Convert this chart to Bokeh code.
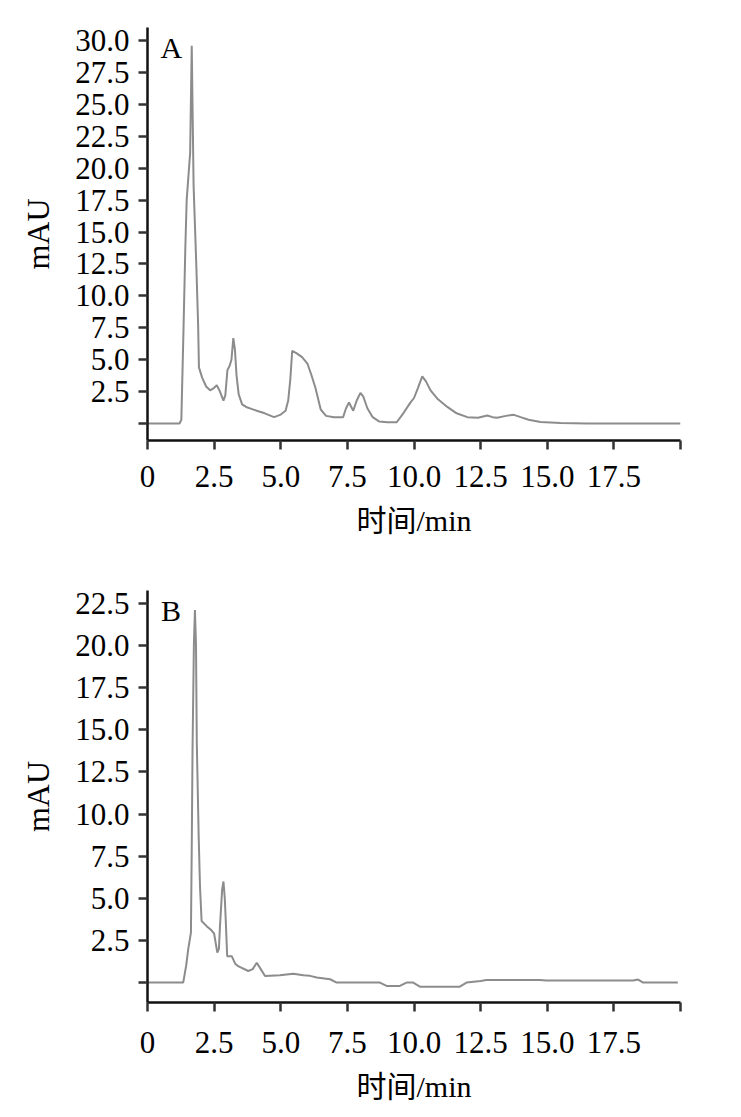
from bokeh.plotting import figure
from bokeh.models import Range1d, FixedTicker, Label, NumeralTickFormatter
from bokeh.layouts import column
from bokeh.embed import file_html
from bokeh.resources import INLINE

# Chromatogram A
time_a = [0, 1.2, 1.27, 1.35, 1.42, 1.47, 1.55, 1.6, 1.66, 1.73, 1.83, 1.9, 1.93,
          2.05, 2.2, 2.35, 2.5, 2.6, 2.7, 2.85, 2.92, 3.0, 3.08, 3.15, 3.22, 3.28,
          3.34, 3.42, 3.55, 3.7, 3.9, 4.1, 4.4, 4.75, 5.0, 5.18, 5.28, 5.36, 5.43,
          5.6, 5.8, 6.0, 6.15, 6.3, 6.5, 6.7, 7.0, 7.34, 7.45, 7.56, 7.72, 7.85,
          7.99, 8.1, 8.25, 8.45, 8.7, 9.0, 9.35, 9.6, 9.85, 10.0, 10.15, 10.31,
          10.45, 10.62, 10.9, 11.25, 11.6, 12.0, 12.4, 12.75, 12.95, 13.12, 13.45,
          13.75, 14.0, 14.3, 14.75, 15.5, 16.5, 20.0]
mau_a = [0, 0, 0.3, 7.3, 13.8, 17.5, 19.8, 21.2, 29.6, 18.6, 12.5, 7.7, 4.4,
         3.6, 2.9, 2.6, 2.8, 3.0, 2.6, 1.8, 2.2, 4.2, 4.5, 5.0, 6.7, 5.8,
         3.8, 2.3, 1.5, 1.3, 1.15, 1.0, 0.8, 0.5, 0.7, 1.0, 1.8, 3.5, 5.7,
         5.5, 5.2, 4.7, 3.8, 2.8, 1.1, 0.6, 0.5, 0.5, 1.2, 1.65, 1.0, 1.8,
         2.4, 2.1, 1.2, 0.5, 0.15, 0.1, 0.1, 0.8, 1.6, 2.0, 2.8, 3.7,
         3.3, 2.6, 1.9, 1.3, 0.8, 0.5, 0.45, 0.63, 0.5, 0.45, 0.6,
         0.68, 0.5, 0.3, 0.12, 0.05, 0.0, 0.0]

# Chromatogram B
time_b = [0, 1.34, 1.45, 1.53, 1.63, 1.66, 1.69, 1.74, 1.78, 1.82, 1.85, 1.92,
          1.97, 2.03, 2.22, 2.4, 2.5, 2.62, 2.68, 2.72, 2.8, 2.85, 2.9, 2.93,
          2.99, 3.16, 3.3, 3.4, 3.78, 3.95, 4.1, 4.25, 4.41, 4.97, 5.47, 5.85,
          6.1, 6.35, 6.85, 7.1, 8.72, 8.97, 9.47, 9.72, 9.97, 10.22, 11.72,
          11.97, 12.5, 12.72, 14.72, 14.97, 18.22, 18.41, 18.6, 19.9]
mau_b = [0, 0, 1.0, 2.0, 2.96, 8.0, 13.8, 20.0, 22.1, 20.0, 14.2, 8.7,
         5.7, 3.65, 3.35, 3.1, 2.9, 1.78, 2.0, 3.35, 5.5, 6.0, 5.0, 3.94,
         1.57, 1.57, 1.1, 0.98, 0.69, 0.8, 1.18, 0.8, 0.39, 0.43, 0.53, 0.43,
         0.4, 0.3, 0.2, 0.0, 0.0, -0.2, -0.2, 0.0, 0.0, -0.24, -0.24,
         0.0, 0.1, 0.15, 0.15, 0.12, 0.12, 0.18, 0.0, 0.0]

x_ticks = [0, 2.5, 5.0, 7.5, 10.0, 12.5, 15.0, 17.5, 20.0]
y_ticks_a = [0, 2.5, 5.0, 7.5, 10.0, 12.5, 15.0, 17.5, 20.0, 22.5, 25.0, 27.5, 30.0]
y_ticks_b = [0, 2.5, 5.0, 7.5, 10.0, 12.5, 15.0, 17.5, 20.0, 22.5]

SERIF = "Liberation Serif"
CJK = "Liberation Serif, Noto Sans CJK SC"


def make_panel(t, v, ymin, ymax, yticks, letter, lx, ly, height, mbt, mbb, xstand):
    p = figure(width=733, height=height, output_backend="svg", toolbar_location=None,
               x_range=Range1d(0, 20), y_range=Range1d(ymin, ymax),
               min_border_left=147, min_border_right=53,
               min_border_top=mbt, min_border_bottom=mbb)
    p.line(t, v, line_color="#8c8c8c", line_width=2)
    p.grid.visible = False
    p.outline_line_color = None
    p.background_fill_color = "white"
    p.border_fill_color = "white"

    for ax in (p.xaxis[0], p.yaxis[0]):
        ax.axis_line_color = "#111111"
        ax.axis_line_width = 2.5
        ax.major_tick_line_color = "#333333"
        ax.major_tick_line_width = 2.5
        ax.major_tick_in = 0
        ax.major_tick_out = 9
        ax.minor_tick_line_color = None
        ax.major_label_text_font = SERIF
        ax.major_label_text_font_size = "31px"
        ax.major_label_text_color = "black"
        ax.axis_label_text_font_style = "normal"
        ax.axis_label_text_color = "black"

    p.xaxis.ticker = FixedTicker(ticks=x_ticks)
    p.xaxis.formatter = NumeralTickFormatter(format="0.0")
    p.xaxis.major_label_overrides = {0: "0", 20: ""}
    p.xaxis.major_label_standoff = xstand
    p.xaxis.axis_label = "时间/min"
    p.xaxis.axis_label_text_font = CJK
    p.xaxis.axis_label_text_font_size = "30px"
    p.xaxis.axis_label_standoff = 14

    p.yaxis.ticker = FixedTicker(ticks=yticks)
    p.yaxis.formatter = NumeralTickFormatter(format="0.0")
    p.yaxis.major_label_overrides = {0: ""}
    p.yaxis.major_label_standoff = 9
    p.yaxis.axis_label = "mAU"
    p.yaxis.axis_label_text_font = SERIF
    p.yaxis.axis_label_text_font_size = "32px"
    p.yaxis.axis_label_standoff = 16

    p.add_layout(Label(x=lx, y=ly, text=letter, text_font=SERIF,
                       text_font_size="30px", text_baseline="alphabetic",
                       text_align="left", text_color="black"))
    return p


pa = make_panel(time_a, mau_a, -1.33, 31.03, y_ticks_a, "A", 0.49, 29.47, 560, 27, 120, 16)
pb = make_panel(time_b, mau_b, -1.18, 23.26, y_ticks_b, "B", 0.51, 22.09, 545, 30, 102, 20)

layout = column(pa, pb)
open("out.html", "w").write(file_html(layout, INLINE))
